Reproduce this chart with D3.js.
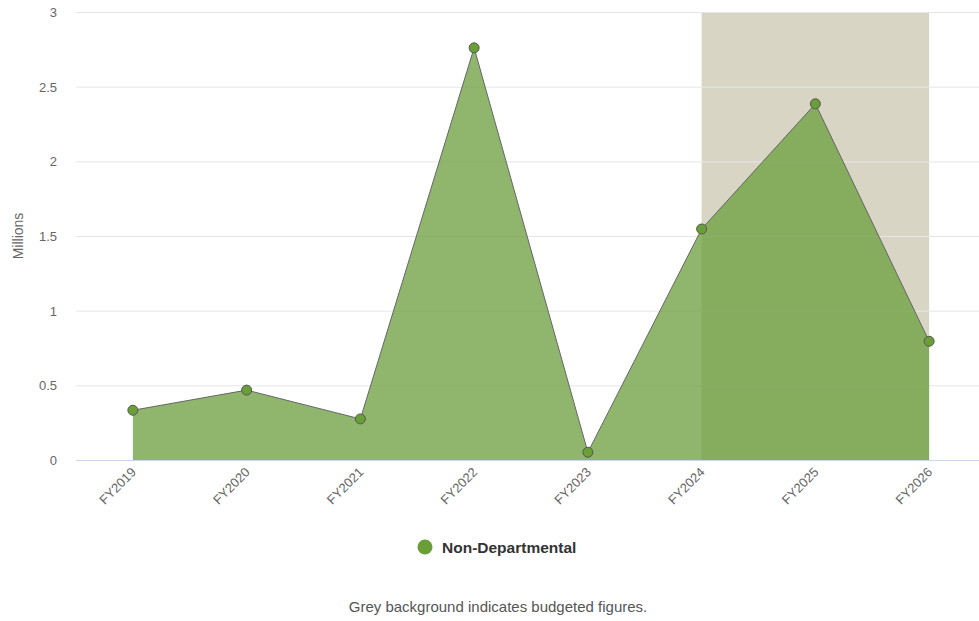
<!DOCTYPE html>
<html>
<head>
<meta charset="utf-8">
<script src="https://cdn.jsdelivr.net/npm/d3@7"></script>
<style>
  body { margin: 0; background: #fff; }
  text { font-family: "Liberation Sans", Arial, sans-serif; }
</style>
</head>
<body>
<div id="chart"></div>
<script>
// data
var years = ["FY2019", "FY2020", "FY2021", "FY2022", "FY2023", "FY2024", "FY2025", "FY2026"];
var values = [0.333, 0.468, 0.275, 2.76, 0.052, 1.547, 2.385, 0.795];
var budgetedYears = ["FY2024", "FY2026"];
var yTicks = [0, 0.5, 1, 1.5, 2, 2.5, 3];
var seriesName = "Non-Departmental";

var w = 979, h = 621;
var plotLeft = 76, plotRight = 986, plotTop = 12, plotBottom = 460;

var svg = d3.select("#chart").append("svg")
    .attr("width", w)
    .attr("height", h);

var x = d3.scalePoint()
    .domain(years)
    .range([plotLeft, plotRight])
    .padding(0.5);

var y = d3.scaleLinear()
    .domain([0, 3])
    .range([plotBottom, plotTop]);

// budgeted band
svg.append("rect")
    .attr("x", x(budgetedYears[0]))
    .attr("y", plotTop)
    .attr("width", x(budgetedYears[1]) - x(budgetedYears[0]))
    .attr("height", plotBottom - plotTop)
    .attr("fill", "#d9d5c4");

// grid lines
svg.selectAll(".grid")
    .data(yTicks.slice(1))
    .enter()
    .append("line")
    .attr("x1", plotLeft)
    .attr("x2", w)
    .attr("y1", function(d) { return y(d) + 0.5; })
    .attr("y2", function(d) { return y(d) + 0.5; })
    .attr("stroke", "#e6e6e6")
    .attr("stroke-width", 1);

// y labels
svg.selectAll(".ylab")
    .data(yTicks)
    .enter()
    .append("text")
    .attr("x", 57)
    .attr("y", function(d) { return y(d) + 5; })
    .attr("text-anchor", "end")
    .attr("font-size", "13px")
    .attr("fill", "#666")
    .text(function(d) { return d; });

svg.append("text")
    .attr("transform", "translate(23," + ((plotTop + plotBottom) / 2) + ") rotate(-90)")
    .attr("text-anchor", "middle")
    .attr("font-size", "14px")
    .attr("fill", "#666")
    .text("Millions");

// area + line
var area = d3.area()
    .x(function(d, i) { return x(years[i]); })
    .y0(y(0))
    .y1(function(d) { return y(d); });

var line = d3.line()
    .x(function(d, i) { return x(years[i]); })
    .y(function(d) { return y(d); });

svg.append("path")
    .datum(values)
    .attr("d", area)
    .attr("fill", "#6a9e3b")
    .attr("fill-opacity", 0.75);

svg.append("path")
    .datum(values)
    .attr("d", line)
    .attr("fill", "none")
    .attr("stroke", "#666")
    .attr("stroke-width", 1);

// x axis line
svg.append("line")
    .attr("x1", plotLeft)
    .attr("x2", w)
    .attr("y1", plotBottom + 0.5)
    .attr("y2", plotBottom + 0.5)
    .attr("stroke", "#ccd6eb");

// markers
svg.selectAll(".pt")
    .data(values)
    .enter()
    .append("circle")
    .attr("cx", function(d, i) { return x(years[i]); })
    .attr("cy", function(d) { return y(d); })
    .attr("r", 5)
    .attr("fill", "#6a9f38")
    .attr("stroke", "#555")
    .attr("stroke-width", 1);

// x labels
svg.selectAll(".xlab")
    .data(years)
    .enter()
    .append("text")
    .attr("transform", function(d) { return "translate(" + (x(d) + 4) + "," + (plotBottom + 13) + ") rotate(-45)"; })
    .attr("text-anchor", "end")
    .attr("font-size", "13px")
    .attr("fill", "#666")
    .text(function(d) { return d; });

// legend
svg.append("circle")
    .attr("cx", 425)
    .attr("cy", 547)
    .attr("r", 7.5)
    .attr("fill", "#6a9f38");

svg.append("text")
    .attr("x", 442)
    .attr("y", 553)
    .attr("font-size", "15.5px")
    .attr("font-weight", "bold")
    .attr("fill", "#333")
    .text(seriesName);

// footnote
svg.append("text")
    .attr("x", 498)
    .attr("y", 612)
    .attr("text-anchor", "middle")
    .attr("font-size", "15px")
    .attr("fill", "#555")
    .text("Grey background indicates budgeted figures.");
</script>
</body>
</html>
